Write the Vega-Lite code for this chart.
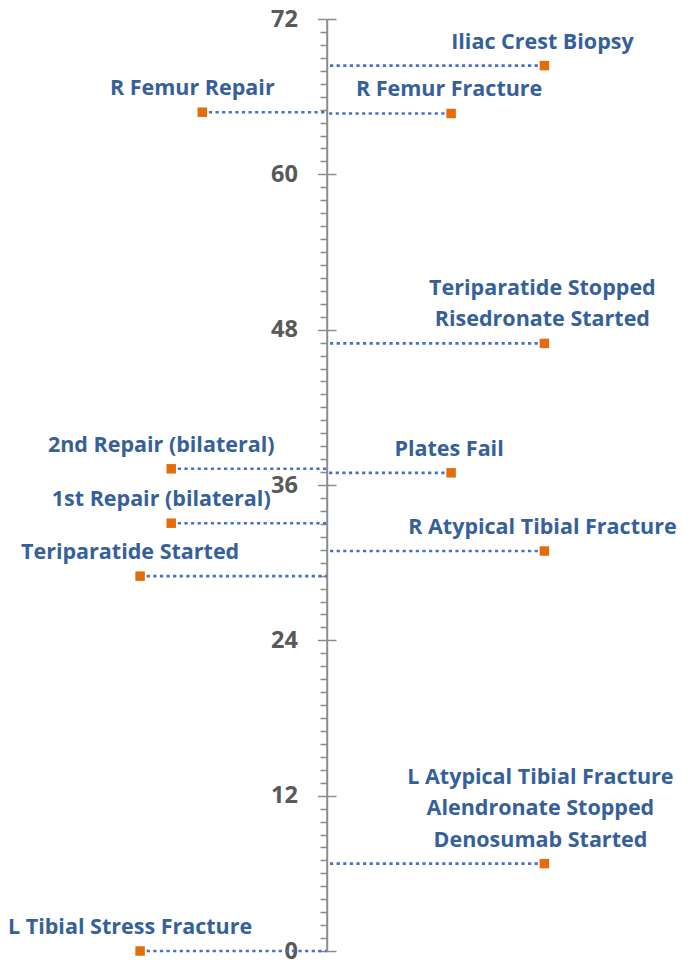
{
  "$schema": "https://vega.github.io/schema/vega-lite/v6.json",
  "autosize": "none",
  "width": 687,
  "height": 932,
  "padding": {"left": 0, "right": 0, "top": 19, "bottom": 9},
  "background": "white",
  "config": {"view": {"stroke": null}},
  "data": {
    "values": [
      {"event": ["L Tibial Stress Fracture"], "month": 0, "side": -6},
      {"event": ["L Atypical Tibial Fracture", "Alendronate Stopped", "Denosumab Started"], "month": 6.75, "side": 7},
      {"event": ["Teriparatide Started"], "month": 28.96, "side": -6},
      {"event": ["R Atypical Tibial Fracture"], "month": 30.9, "side": 7},
      {"event": ["1st Repair (bilateral)"], "month": 33.05, "side": -5},
      {"event": ["Plates Fail"], "month": 36.94, "side": 4},
      {"event": ["2nd Repair (bilateral)"], "month": 37.25, "side": -5},
      {"event": ["Teriparatide Stopped", "Risedronate Started"], "month": 46.94, "side": 7},
      {"event": ["R Femur Fracture"], "month": 64.7, "side": 4},
      {"event": ["R Femur Repair"], "month": 64.8, "side": -4},
      {"event": ["Iliac Crest Biopsy"], "month": 68.4, "side": 7}
    ]
  },
  "resolve": {"axis": {"y": "independent"}},
  "layer": [
    {
      "mark": {"type": "rule", "color": "#4472C4", "strokeWidth": 2.6, "strokeDash": [3.2, 3.4]},
      "encoding": {
        "x": {"field": "side", "type": "quantitative", "scale": {"domain": [-10.505, 11.585], "nice": false, "zero": false}, "axis": null},
        "x2": {"datum": 0},
        "y": {
          "field": "month", "type": "quantitative",
          "scale": {"domain": [0, 72], "nice": false, "zero": true},
          "axis": {
            "orient": "left", "offset": -326.7, "title": null, "grid": false,
            "values": [0,1,2,3,4,5,6,7,8,9,10,11,12,13,14,15,16,17,18,19,20,21,22,23,24,25,26,27,28,29,30,31,32,33,34,35,36,37,38,39,40,41,42,43,44,45,46,47,48,49,50,51,52,53,54,55,56,57,58,59,60,61,62,63,64,65,66,67,68,69,70,71,72],
            "labelExpr": "datum.value % 12 === 0 ? datum.label : ''",
            "domainColor": "#8C8C8C", "domainWidth": 2,
            "tickColor": "#8C8C8C", "tickWidth": 1.5,
            "tickSize": {"condition": {"test": "datum.value % 12 === 0", "value": 9.3}, "value": 6.7},
            "labelPadding": 20,
            "labelFont": "Open Sans", "labelFontSize": 23.5, "labelFontWeight": "bold", "labelColor": "#595959",
            "labelBaseline": "middle", "labelOverlap": false, "labelFlush": false
          }
        }
      }
    },
    {
      "mark": {"type": "square", "color": "#E46C0A", "size": 90, "opacity": 1},
      "encoding": {
        "x": {"field": "side", "type": "quantitative"},
        "y": {
          "field": "month", "type": "quantitative",
          "axis": {
            "orient": "right", "offset": -360.3, "title": null, "grid": false,
            "values": [0, 12, 24, 36, 48, 60, 72],
            "labels": false, "domain": false,
            "tickColor": "#8C8C8C", "tickWidth": 1.5, "tickSize": 9.3
          }
        }
      }
    },
    {
      "transform": [{"filter": "length(datum.event) == 1 && datum.side < 0"}],
      "mark": {"type": "text", "font": "Open Sans", "fontSize": 21.5, "fontWeight": "bold", "color": "#35609C", "align": "center", "baseline": "alphabetic", "dy": -17, "dx": -10, "lineHeight": 31.7},
      "encoding": {
        "x": {"field": "side", "type": "quantitative"},
        "y": {"field": "month", "type": "quantitative", "axis": null},
        "text": {"field": "event"}
      }
    },
    {
      "transform": [{"filter": "length(datum.event) == 1 && datum.side > 0"}],
      "mark": {"type": "text", "font": "Open Sans", "fontSize": 21.5, "fontWeight": "bold", "color": "#35609C", "align": "center", "baseline": "alphabetic", "dy": -17, "dx": -2, "lineHeight": 31.7},
      "encoding": {
        "x": {"field": "side", "type": "quantitative"},
        "y": {"field": "month", "type": "quantitative", "axis": null},
        "text": {"field": "event"}
      }
    },
    {
      "transform": [{"filter": "length(datum.event) == 2"}],
      "mark": {"type": "text", "font": "Open Sans", "fontSize": 21.5, "fontWeight": "bold", "color": "#35609C", "align": "center", "baseline": "alphabetic", "dy": -48.7, "dx": -2, "lineHeight": 31.7},
      "encoding": {
        "x": {"field": "side", "type": "quantitative"},
        "y": {"field": "month", "type": "quantitative", "axis": null},
        "text": {"field": "event"}
      }
    },
    {
      "transform": [{"filter": "length(datum.event) == 3"}],
      "mark": {"type": "text", "font": "Open Sans", "fontSize": 21.5, "fontWeight": "bold", "color": "#35609C", "align": "center", "baseline": "alphabetic", "dy": -79.6, "dx": -4, "lineHeight": 31.3},
      "encoding": {
        "x": {"field": "side", "type": "quantitative"},
        "y": {"field": "month", "type": "quantitative", "axis": null},
        "text": {"field": "event"}
      }
    }
  ]
}
